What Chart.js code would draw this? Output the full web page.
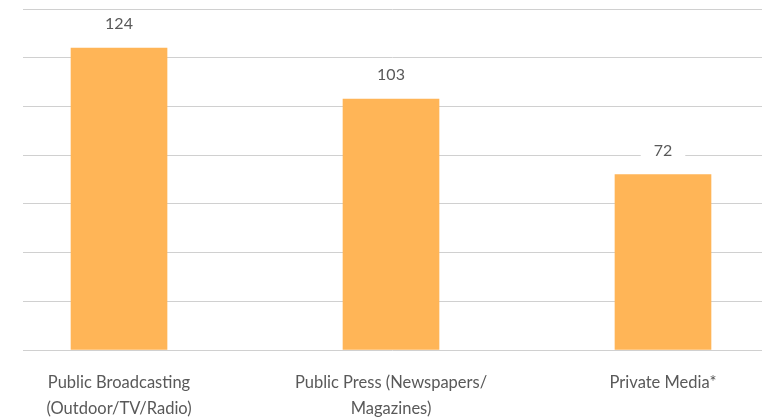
<!DOCTYPE html>
<html>
<head>
<meta charset="utf-8">
<script src="https://cdn.jsdelivr.net/npm/chart.js@4/dist/chart.umd.min.js"></script>
<style>
  html, body { margin: 0; padding: 0; background: #fff; }
  #wrap { width: 762px; height: 419px; position: relative; }
</style>
</head>
<body>
<div id="wrap"><canvas id="c" width="762" height="419"></canvas></div>
<script>
// Media outlets by category
const categories = [
  ['Public Broadcasting', '(Outdoor/TV/Radio)'],
  ['Public Press (Newspapers/', 'Magazines)'],
  ['Private Media*']
];
const counts = [124, 103, 72];
const yTicks = [0, 20, 40, 60, 80, 100, 120, 140];

const textColor = '#595959';
const fontFamily = 'Lato, "Open Sans", sans-serif';

// Value labels above each bar, on a white backing so gridlines break around them
const valueLabels = {
  id: 'valueLabels',
  afterDatasetsDraw(chart) {
    const ctx = chart.ctx;
    const meta = chart.getDatasetMeta(0);
    ctx.save();
    ctx.font = '16px ' + fontFamily;
    ctx.textAlign = 'center';
    ctx.textBaseline = 'middle';
    meta.data.forEach((bar, i) => {
      const txt = String(counts[i]);
      const y = bar.y - 24;
      const w = ctx.measureText(txt).width + 26;
      ctx.fillStyle = '#fff';
      ctx.fillRect(bar.x - w / 2, y - 10, w, 20);
      ctx.fillStyle = textColor;
      ctx.fillText(txt, bar.x, y);
    });
    ctx.restore();
  }
};

new Chart(document.getElementById('c'), {
  type: 'bar',
  data: {
    datasets: [{
      data: counts.map((v, i) => ({ x: i, y: v })),
      backgroundColor: '#FFB557',
      barThickness: 96
    }]
  },
  options: {
    responsive: false,
    animation: false,
    layout: { padding: { top: 9, left: 23, right: 0, bottom: 0 } },
    plugins: { legend: { display: false }, tooltip: { enabled: false } },
    scales: {
      x: {
        type: 'linear',
        offset: false,
        min: -0.353,
        max: 2.364,
        grid: { display: false },
        border: { display: false },
        afterBuildTicks(scale) {
          scale.ticks = categories.map((c, i) => ({ value: i }));
        },
        afterFit(scale) { scale.height = 69; },
        ticks: {
          autoSkip: false,
          maxRotation: 0,
          padding: 12,
          color: textColor,
          font: { family: fontFamily, size: 16.5, lineHeight: 26 / 16.5 },
          callback: (v) => categories[v]
        }
      },
      y: {
        min: 0,
        max: 140,
        afterBuildTicks(scale) {
          scale.ticks = yTicks.map(v => ({ value: v }));
        },
        ticks: { display: false },
        border: { display: false },
        grid: { color: '#d0d0d0', lineWidth: 1, drawTicks: false }
      }
    }
  },
  plugins: [valueLabels]
});
</script>
</body>
</html>
